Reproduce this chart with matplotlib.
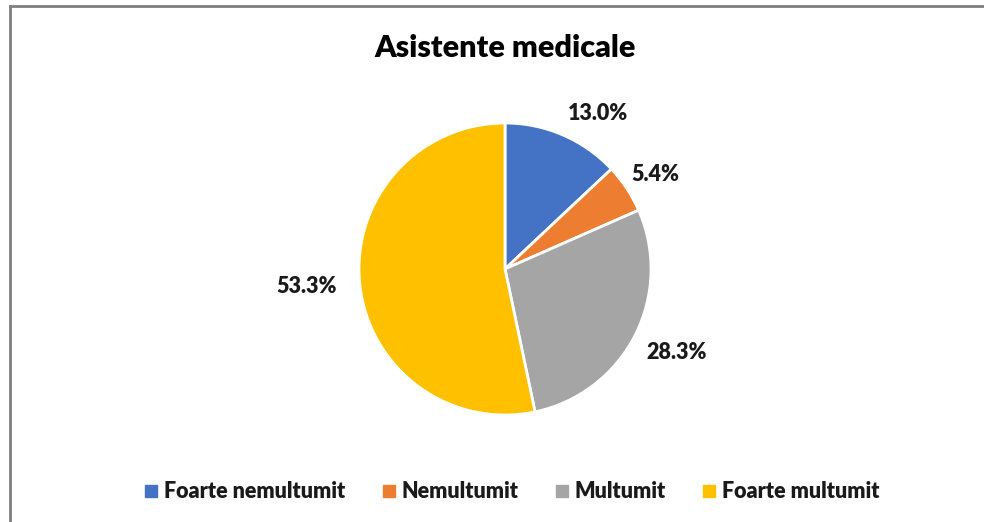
import matplotlib
matplotlib.use("Agg")
import matplotlib.pyplot as plt
import numpy as np
from matplotlib.lines import Line2D

categories = ["Foarte nemultumit", "Nemultumit", "Multumit", "Foarte multumit"]
values = [13.0, 5.4, 28.3, 53.3]
colors = ["#4472C4", "#ED7D31", "#A5A5A5", "#FFC000"]
title = "Asistente medicale"

plt.rcParams['font.family'] = ['Lato', 'DejaVu Sans']

W, H = 984, 522
fig = plt.figure(figsize=(W / 100, H / 100), dpi=100)

# border
bc = "#7F7F7F"
fig.add_artist(Line2D([10 / W, 10 / W], [0, 1 - 6 / H], transform=fig.transFigure, color=bc, lw=2))
fig.add_artist(Line2D([10 / W, 1], [1 - 6 / H, 1 - 6 / H], transform=fig.transFigure, color=bc, lw=2))

cx, cy, r = 505, H - 269, 146
ax = fig.add_axes([(cx - r) / W, (cy - r) / H, 2 * r / W, 2 * r / H])
wedges, _ = ax.pie(values, colors=colors, startangle=90, counterclock=False,
                   radius=1.0, wedgeprops=dict(edgecolor="white", linewidth=2))
ax.set_xlim(-1, 1)
ax.set_ylim(-1, 1)
ax.set_aspect("equal")
ax.axis("off")

label_dist = [1.08, 1.04, 1.09, 1.16]
label_align = [("left", "bottom"), ("left", "bottom"), ("left", "top"), ("right", "center")]
for w, v, d, (ha, va) in zip(wedges, values, label_dist, label_align):
    ang = np.deg2rad((w.theta1 + w.theta2) / 2)
    ax.text(d * np.cos(ang), d * np.sin(ang), f"{v:.1f}%", ha=ha, va=va,
            fontsize=15.5, fontweight="heavy", color="#1A1A1A", clip_on=False)

fig.text(505 / W, 1 - 48 / H, title, ha="center", va="center",
         fontsize=22, fontweight="heavy", color="#000000")

handles = [plt.Line2D([], [], marker="s", linestyle="none", markersize=8,
                      markerfacecolor=c, markeredgecolor=c) for c in colors]
leg = fig.legend(handles, categories, loc="center", bbox_to_anchor=(510 / W, 1 - 492 / H),
                 ncol=4, frameon=False, handletextpad=0.1, columnspacing=1.5,
                 handlelength=1.0, prop=dict(size=15.5, weight="heavy"))
for t in leg.get_texts():
    t.set_color("#1A1A1A")

fig.savefig("out.png", dpi=100)
